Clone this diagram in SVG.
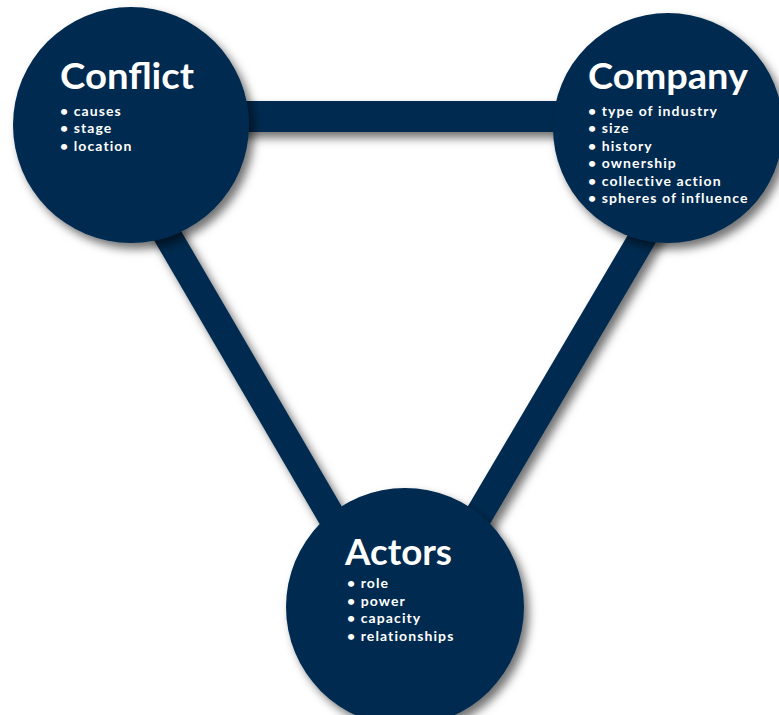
<svg xmlns="http://www.w3.org/2000/svg" width="779" height="715" viewBox="0 0 779 715">
  <defs>
    <filter id="sh" x="-20%" y="-20%" width="150%" height="150%">
      <feDropShadow dx="5" dy="6" stdDeviation="5" flood-color="#000" flood-opacity="0.55"/>
    </filter>
    <style>
      .node { fill: #022b4f; }
      .bar { stroke: #022b4f; stroke-width: 28; fill: none; }
      .title { font-family: Lato, "Liberation Sans", sans-serif; font-weight: 700; font-size: 36px; fill: #ffffff; }
      .item { font-family: Lato, "Liberation Sans", sans-serif; font-weight: 700; font-size: 14px; letter-spacing: 1.1px; fill: #ffffff; }
    </style>
  </defs>
  <rect width="779" height="715" fill="#ffffff"/>
  <g id="connectors" filter="url(#sh)">
    <line class="bar" x1="131" y1="116.5" x2="668" y2="116.5" style="stroke-width:31"/>
    <line class="bar" x1="103" y1="125" x2="386" y2="610"/>
    <line class="bar" x1="706" y1="130" x2="423" y2="610"/>
  </g>
  <g id="conflict">
    <circle class="node" cx="131" cy="125" r="118" filter="url(#sh)"/>
    <text class="title" x="60" y="89" textLength="134" lengthAdjust="spacingAndGlyphs">Conflict</text>
    <text class="item" x="60" y="116">• causes</text>
    <text class="item" x="60" y="133">• stage</text>
    <text class="item" x="60" y="151">• location</text>
  </g>
  <g id="company">
    <circle class="node" cx="668" cy="128" r="115" filter="url(#sh)"/>
    <text class="title" x="588" y="89" textLength="160" lengthAdjust="spacingAndGlyphs">Company</text>
    <text class="item" x="588" y="116">• type of industry</text>
    <text class="item" x="588" y="133">• size</text>
    <text class="item" x="588" y="151">• history</text>
    <text class="item" x="588" y="168">• ownership</text>
    <text class="item" x="588" y="186">• collective action</text>
    <text class="item" x="588" y="203">• spheres of influence</text>
  </g>
  <g id="actors">
    <circle class="node" cx="405" cy="607" r="119" filter="url(#sh)"/>
    <text class="title" x="345" y="565" textLength="107" lengthAdjust="spacingAndGlyphs">Actors</text>
    <text class="item" x="347" y="588">• role</text>
    <text class="item" x="347" y="606">• power</text>
    <text class="item" x="347" y="623">• capacity</text>
    <text class="item" x="347" y="641">• relationships</text>
  </g>
</svg>
